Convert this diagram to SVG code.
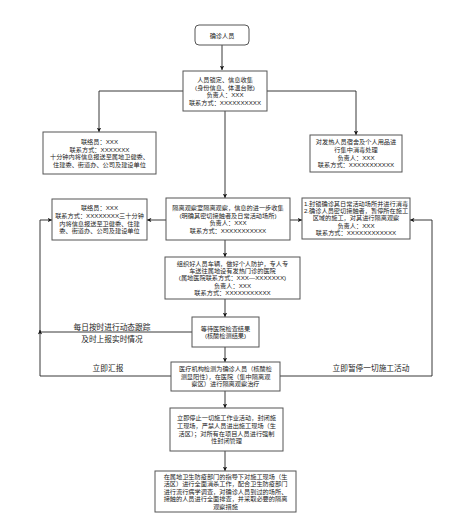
<svg xmlns="http://www.w3.org/2000/svg" width="465" height="524" viewBox="0 0 465 524">
<defs>
<marker id="ah" viewBox="0 0 10 10" refX="10" refY="5" markerWidth="4.5" markerHeight="4.5" orient="auto" markerUnits="userSpaceOnUse">
<path d="M0,0 L10,5 L0,10 L3,5 Z" fill="#111"/>
</marker>
<style>
.box{fill:#fff;stroke:#555;stroke-width:1}
.t{font-family:"Liberation Sans","Noto Sans CJK SC",sans-serif;font-size:6.2px;fill:#222;text-anchor:middle}
.lbl{font-family:"Liberation Sans","Noto Sans CJK SC",sans-serif;font-size:7.7px;fill:#222;text-anchor:middle}
.e{fill:none;stroke:#222;stroke-width:0.9;marker-end:url(#ah)}
.l{fill:none;stroke:#222;stroke-width:0.9}
</style>
</defs>
<rect width="465" height="524" fill="#fff"/>

<g id="connectors">
<path class="e" d="M222 45 V70"/>
<path class="e" d="M183 91 H99 V132"/>
<path class="e" d="M267 91 H356 V135"/>
<path class="e" d="M225 111 V198"/>
<path class="e" d="M166 220 H147"/>
<path class="e" d="M290 220 H302"/>
<path class="e" d="M225 240 V257"/>
<path class="e" d="M225 299 V317"/>
<path class="e" d="M225 347 V362"/>
<path class="e" d="M225 391 V408"/>
<path class="e" d="M225 451 V471"/>
<path class="e" d="M171 376 H40 V220 H52"/>
<path class="e" d="M192 332 H40 V330"/>
<path class="e" d="M280 376 H432 V220 H410"/>
<text class="lbl" x="112" y="330">每日按时进行动态跟踪</text>
<text class="lbl" x="112" y="342">及时上报实时情况</text>
<text class="lbl" x="108" y="371">立即汇报</text>
<text class="lbl" x="371" y="371">立即暂停一切施工活动</text>
</g>

<g id="n1">
<rect class="box" x="195" y="25" width="54" height="20" rx="4"/>
<text class="t" x="222" y="37.6">确诊人员</text>
</g>

<g id="n2">
<rect class="box" x="183" y="71" width="84" height="40"/>
<text class="t" x="225" y="81.9">人员锁定、信息收集</text>
<text class="t" x="225" y="89.5">(身份信息、体温台账)</text>
<text class="t" x="225" y="97.1">负责人：XXX</text>
<text class="t" x="225" y="104.7">联系方式：XXXXXXXXXX</text>
</g>

<g id="n3">
<rect class="box" x="43" y="132" width="113" height="42"/>
<text class="t" x="99.5" y="143.9">联络员：XXX</text>
<text class="t" x="99.5" y="151.5">联系方式：XXXXXXX</text>
<text class="t" x="99.5" y="159.1">十分钟内将信息报送至属地卫健委、</text>
<text class="t" x="99.5" y="166.7">住建委、街道办、公司及建设单位</text>
</g>

<g id="n4">
<rect class="box" x="310" y="135" width="92" height="37"/>
<text class="t" x="356" y="144.4">对发热人员宿舍及个人用品进</text>
<text class="t" x="356" y="152">行集中消毒处理</text>
<text class="t" x="356" y="159.6">负责人：XXX</text>
<text class="t" x="356" y="167.2">联系方式：XXXXXXXXXXX</text>
</g>

<g id="n5">
<rect class="box" x="52" y="199" width="95" height="41"/>
<text class="t" x="99.5" y="210.4">联络员：XXX</text>
<text class="t" x="99.5" y="218">联系方式：XXXXXXXX三十分钟</text>
<text class="t" x="99.5" y="225.6">内将信息报送至卫健委、住建</text>
<text class="t" x="99.5" y="233.2">委、街道办、公司及建设单位</text>
</g>

<g id="n6">
<rect class="box" x="166" y="198" width="124" height="42"/>
<text class="t" x="228" y="209.9">隔离观察室隔离观察，信息的进一步收集</text>
<text class="t" x="228" y="217.5">(明确其密切接触者及日常活动场所)</text>
<text class="t" x="228" y="225.1">负责人：XXX</text>
<text class="t" x="228" y="232.7">联系方式：XXXXXXXXXXX</text>
</g>

<g id="n7">
<rect class="box" x="302" y="198" width="108" height="41"/>
<text class="t" x="356" y="205.9">1.封锁确诊其日常活动场所并进行消毒</text>
<text class="t" x="356" y="213.1">2.确诊人员密切接触者，暂停所在施工</text>
<text class="t" x="356" y="220.3">区域的施工，对其进行隔离观察</text>
<text class="t" x="356" y="227.5">负责人：XXX</text>
<text class="t" x="356" y="234.7">联系方式：XXXXXXXXXXXX</text>
</g>

<g id="n8">
<rect class="box" x="165" y="257" width="135" height="42"/>
<text class="t" x="232.5" y="265.5">组织好人员车辆，做好个人防护，专人专</text>
<text class="t" x="232.5" y="272.9">车送往属地设有发热门诊的医院</text>
<text class="t" x="232.5" y="280.3">(属地医院联系方式：XXX—XXXXXXX)</text>
<text class="t" x="232.5" y="287.7">负责人：XXX</text>
<text class="t" x="232.5" y="295.1">联系方式：XXXXXXXXXXX</text>
</g>

<g id="n9">
<rect class="box" x="192" y="317" width="67" height="30"/>
<text class="t" x="225.5" y="330.5">等待医院检查结果</text>
<text class="t" x="225.5" y="338.1">(核酸检测结果)</text>
</g>

<g id="n10">
<rect class="box" x="171" y="362" width="109" height="29"/>
<text class="t" x="225.5" y="371.2">医疗机构检测为确诊人员（核酸检</text>
<text class="t" x="225.5" y="378.8">测显阳性），在医院（集中隔离观</text>
<text class="t" x="225.5" y="386.4">察区）进行隔离观察治疗</text>
</g>

<g id="n11">
<rect class="box" x="170" y="408" width="113" height="43"/>
<text class="t" x="226.5" y="420.4">立即停止一切施工作业活动，封闭施</text>
<text class="t" x="226.5" y="428">工现场，严禁人员进出施工现场（生</text>
<text class="t" x="226.5" y="435.6">活区）；对所有在项目人员进行强制</text>
<text class="t" x="226.5" y="443.2">性封闭管理</text>
</g>

<g id="n12">
<rect class="box" x="155" y="471" width="141" height="41"/>
<text class="t" x="225.5" y="479">在属地卫生防疫部门的指导下对施工现场（生</text>
<text class="t" x="225.5" y="486.4">活区）进行全面消杀工作，配合卫生防疫部门</text>
<text class="t" x="225.5" y="493.8">进行流行病学调查，对确诊人员到过的场所、</text>
<text class="t" x="225.5" y="501.2">接触的人员进行全面排查，并采取必要的隔离</text>
<text class="t" x="225.5" y="508.6">观察措施</text>
</g>
</svg>
